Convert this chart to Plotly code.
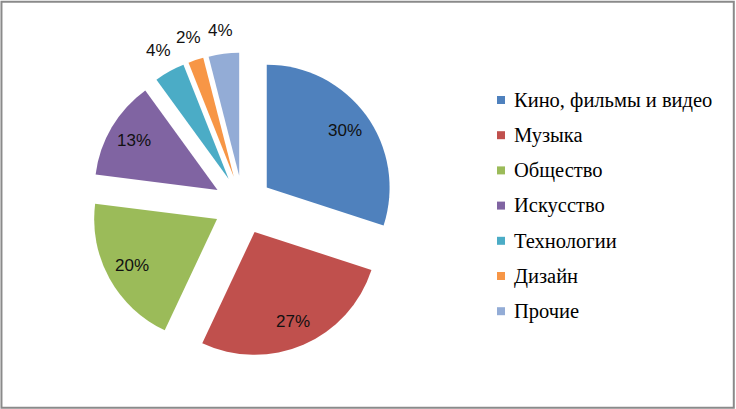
import math
import plotly.graph_objects as go

labels = ["Кино, фильмы и видео", "Музыка", "Общество", "Искусство", "Технологии", "Дизайн", "Прочие"]
values = [30, 27, 20, 13, 4, 2, 4]
colors = ["#4F81BD", "#C0504D", "#9BBB59", "#8064A2", "#4BACC6", "#F79646", "#93ACD6"]
inside = [True, True, True, True, False, False, False]

W, H = 736, 409
PULL = 0.24
dom_x = [0.123, 0.537]
dom_y = [0.126, 0.872]

fig = go.Figure()
fig.add_trace(go.Pie(
    labels=labels, values=values, sort=False, direction="clockwise", rotation=0,
    marker=dict(colors=colors, line=dict(width=0)),
    pull=PULL, textinfo="none",
    domain=dict(x=dom_x, y=dom_y),
    showlegend=False, hoverinfo="label+percent",
))

# percentage labels placed along each slice's mid-angle (as in the source chart)
cx = (dom_x[0] + dom_x[1]) / 2 * W
cy = (1 - (dom_y[0] + dom_y[1]) / 2) * H
radius = min((dom_x[1] - dom_x[0]) * W, (dom_y[1] - dom_y[0]) * H) / 2 / (1 + PULL)
total = sum(values)
cum = 0
for v, ins in zip(values, inside):
    mid = (cum + v / 2) / total * 2 * math.pi
    cum += v
    r = radius * (1.03 if ins else 1.43)
    px = cx + r * math.sin(mid)
    py = cy - r * math.cos(mid)
    fig.add_annotation(x=px / W, y=1 - py / H, xref="paper", yref="paper",
                       text=f"{v}%", showarrow=False, xanchor="center", yanchor="middle",
                       font=dict(family="Liberation Sans", size=17, color="#111111"))

leg_x = 497 / W
leg_y0 = 1 - 100 / H
leg_step = 35.2 / H
for i, (lab, col) in enumerate(zip(labels, colors)):
    yc = leg_y0 - i * leg_step
    fig.add_shape(type="rect", xref="paper", yref="paper",
                  x0=leg_x, x1=leg_x + 8 / W, y0=yc - 4 / H, y1=yc + 4 / H,
                  fillcolor=col, line=dict(width=0))
    fig.add_annotation(x=leg_x + 15 / W, y=yc, xref="paper", yref="paper",
                       text=lab, showarrow=False, xanchor="left", yanchor="middle",
                       font=dict(family="Liberation Serif", size=20.5, color="#000000"))

fig.add_shape(type="rect", xref="paper", yref="paper", x0=0.002, x1=0.997, y0=0.003, y1=0.996,
              line=dict(color="#8a8a8a", width=2))

fig.update_layout(width=W, height=H, margin=dict(l=0, r=0, t=0, b=0, autoexpand=False),
                  paper_bgcolor="white", plot_bgcolor="white")
fig.write_html("out.html", config={"displayModeBar": False},
               post_script="document.body.style.margin='0px';document.body.style.padding='0px';")
